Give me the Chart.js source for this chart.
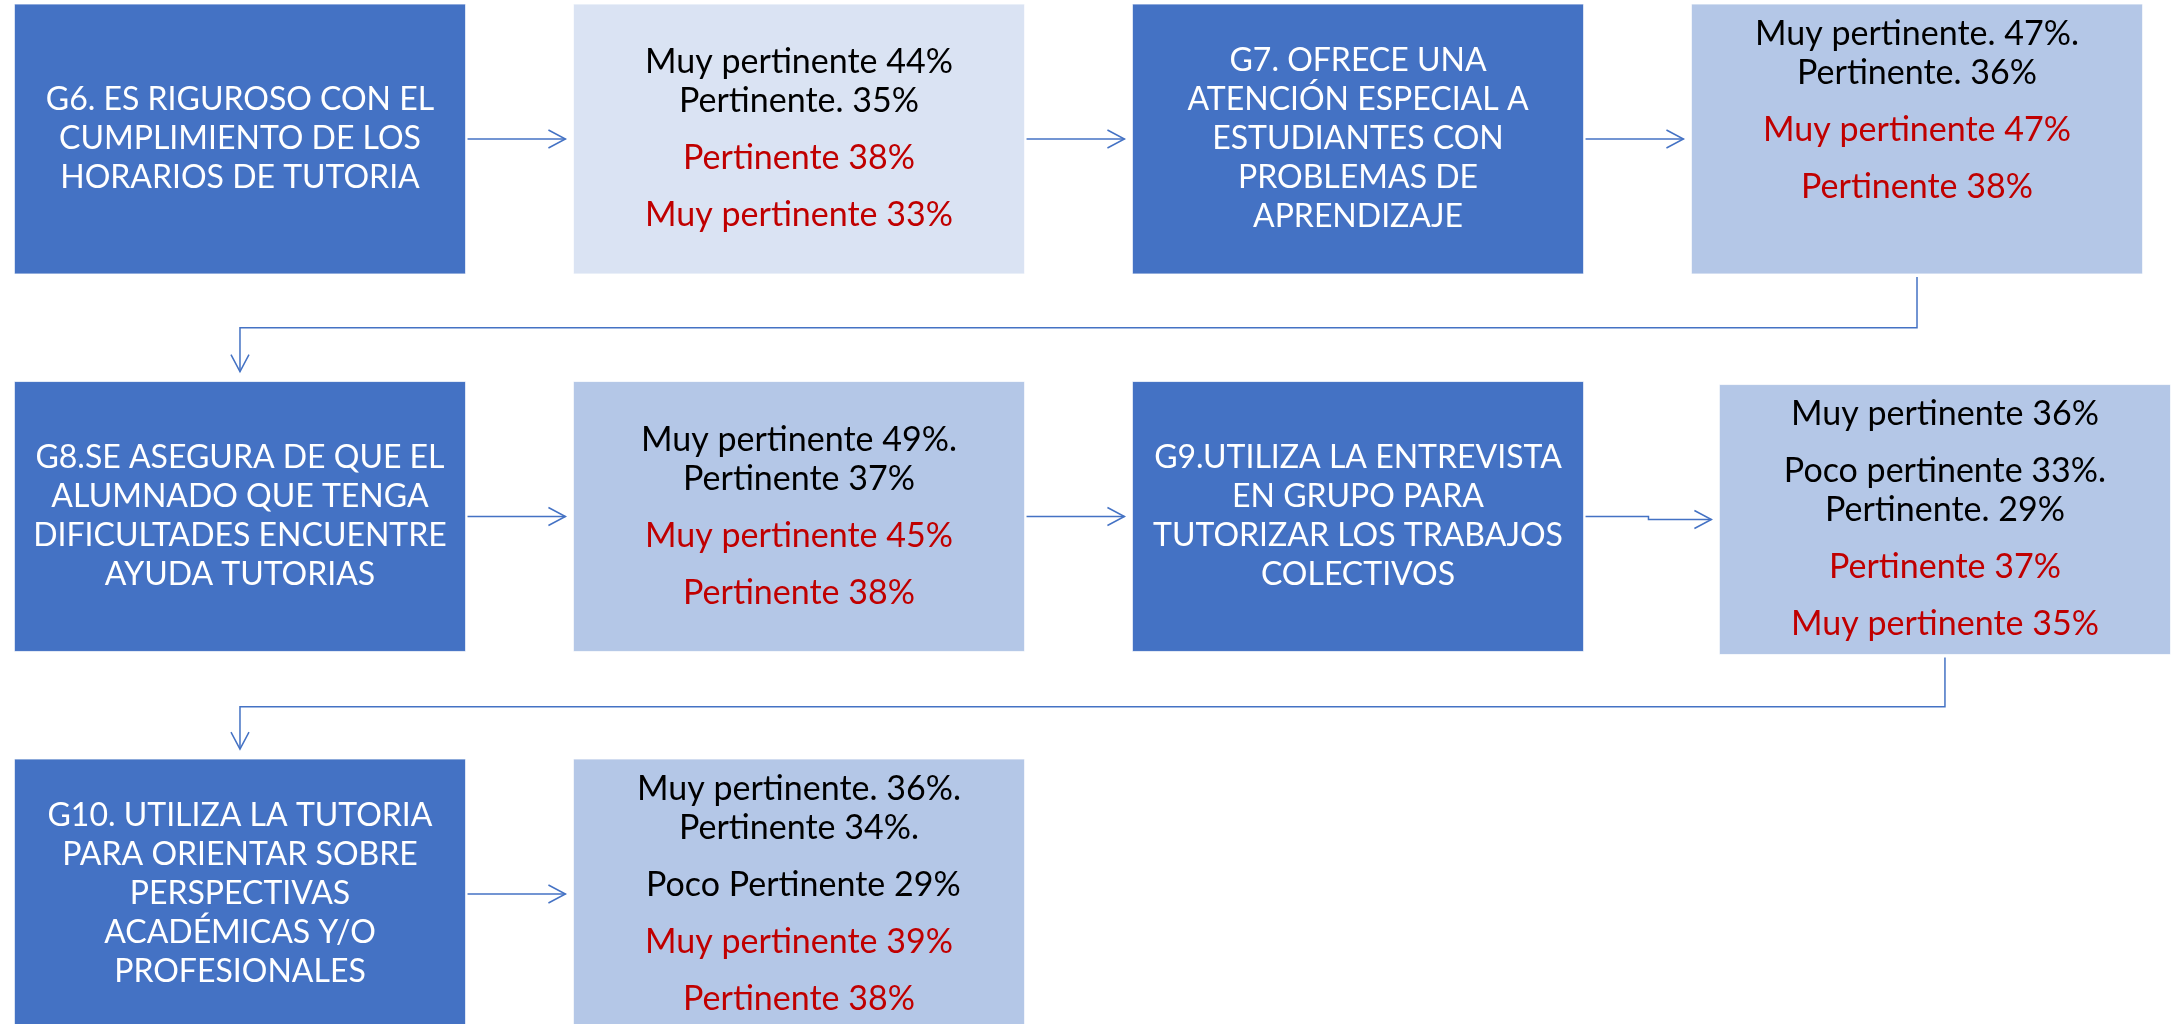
<!DOCTYPE html>
<html>
<head>
<meta charset="utf-8">
<script src="https://cdn.jsdelivr.net/npm/chart.js@4.4.1/dist/chart.umd.min.js"></script>
<style>
  html, body { margin: 0; padding: 0; background: #ffffff; overflow: hidden; }
  #flow { display: block; }
</style>
</head>
<body>
<canvas id="flow" width="2177" height="1024"></canvas>
<script>
// Items (question statements), one box each
const itemLines = [
    ['G6. ES RIGUROSO CON EL', 'CUMPLIMIENTO DE LOS', 'HORARIOS DE TUTORIA'],
    ['G7. OFRECE UNA', 'ATENCIÓN ESPECIAL A', 'ESTUDIANTES CON', 'PROBLEMAS DE', 'APRENDIZAJE'],
    ['G8.SE ASEGURA DE QUE EL', 'ALUMNADO QUE TENGA', 'DIFICULTADES ENCUENTRE', 'AYUDA TUTORIAS'],
    ['G9.UTILIZA LA ENTREVISTA', 'EN GRUPO PARA', 'TUTORIZAR LOS TRABAJOS', 'COLECTIVOS'],
    ['G10. UTILIZA LA TUTORIA', 'PARA ORIENTAR SOBRE', 'PERSPECTIVAS', 'ACADÉMICAS Y/O', 'PROFESIONALES']
];

// First results (black), grouped in paragraphs
const firstResults = [
    [['Muy pertinente 44%', 'Pertinente. 35%']],
    [['Muy pertinente. 47%.', 'Pertinente. 36%']],
    [['Muy pertinente 49%.', 'Pertinente 37%']],
    [['Muy pertinente 36%'], ['Poco pertinente 33%.', 'Pertinente. 29%']],
    [['Muy pertinente. 36%.', 'Pertinente 34%.'], [' Poco Pertinente 29%']]
];

// Second results (red), one paragraph per line
const secondResults = [
    ['Pertinente 38%', 'Muy pertinente 33%'],
    ['Muy pertinente 47%', 'Pertinente 38%', ''],
    ['Muy pertinente 45%', 'Pertinente 38%'],
    ['Pertinente 37%', 'Muy pertinente 35%'],
    ['Muy pertinente 39%', 'Pertinente 38%']
];

// Layout: grid position of each box (item, result, item, result ...)
const gridCols = [0, 1, 2, 3, 0, 1, 2, 3.05, 0, 1];
const gridRows = [0, 0, 0, 0, 1, 1, 1, 1.008, 2, 2];
const BOX_W = 0.807;
const BOX_H = 0.715;

const ITEM_COLOR = '#4472C4';
const RESULT_COLORS = ['#DAE3F3', '#B4C7E7', '#B4C7E7', '#B4C7E7', '#B4C7E7'];
const LINE_COLOR = '#4472C4';
const ITEM_FONT = '32px Lato, sans-serif';
const RESULT_FONT = '34px Lato, sans-serif';

// Draw an open arrow head at (x, y) pointing in direction (dx, dy)
function drawArrowHead(ctx, x, y, dx, dy) {
    const len = 17, half = 9;
    const px = -dy, py = dx;
    ctx.beginPath();
    ctx.moveTo(x - dx * len + px * half, y - dy * len + py * half);
    ctx.lineTo(x, y);
    ctx.lineTo(x - dx * len - px * half, y - dy * len - py * half);
    ctx.stroke();
}

// Draw centered lines; paragraphs get extra space after
function drawParagraphs(ctx, cx, cy, paragraphs, font) {
    const lineGap = 39, paraGap = 57;
    const rows = [];
    let y = 0;
    paragraphs.forEach((p, pi) => {
        p.lines.forEach((line, li) => {
            rows.push({ text: line, color: p.color, y: y });
            if (li < p.lines.length - 1) y += lineGap;
        });
        if (pi < paragraphs.length - 1) y += paraGap;
    });
    const offset = cy - y / 2;
    ctx.font = font;
    ctx.textAlign = 'center';
    ctx.textBaseline = 'middle';
    rows.forEach(r => {
        ctx.fillStyle = r.color;
        ctx.fillText(r.text, cx, offset + r.y);
    });
}

const flowPlugin = {
    id: 'flowBoxes',
    afterDatasetsDraw(chart) {
        const ctx = chart.ctx;
        const xs = chart.scales.x, ys = chart.scales.y;
        const pts = chart.getDatasetMeta(0).data;
        const bw = xs.getPixelForValue(BOX_W) - xs.getPixelForValue(0);
        const bh = ys.getPixelForValue(BOX_H) - ys.getPixelForValue(0);
        const boxes = pts.map(p => ({
            x: p.x, y: p.y,
            left: p.x - bw / 2, right: p.x + bw / 2,
            top: p.y - bh / 2, bottom: p.y + bh / 2
        }));

        ctx.save();
        // Boxes and their text
        boxes.forEach((b, i) => {
            const k = Math.floor(i / 2);
            const isItem = i % 2 === 0;
            ctx.fillStyle = isItem ? ITEM_COLOR : RESULT_COLORS[k];
            ctx.fillRect(b.left, b.top, bw, bh);
            ctx.strokeStyle = 'rgba(255,255,255,0.7)';
            ctx.lineWidth = 1;
            ctx.strokeRect(b.left, b.top, bw, bh);
            if (isItem) {
                drawParagraphs(ctx, b.x, b.y, [{ lines: itemLines[k], color: '#ffffff' }], ITEM_FONT);
            } else {
                const paras = firstResults[k].map(p => ({ lines: p, color: '#000000' }))
                    .concat(secondResults[k].map(t => ({ lines: [t], color: '#C00000' })));
                drawParagraphs(ctx, b.x, b.y, paras, RESULT_FONT);
            }
        });

        // Connectors between consecutive boxes
        ctx.strokeStyle = LINE_COLOR;
        ctx.lineWidth = 1.5;
        for (let i = 0; i < boxes.length - 1; i++) {
            const a = boxes[i], b = boxes[i + 1];
            if (Math.round(gridRows[i]) === Math.round(gridRows[i + 1])) {
                const x1 = a.right + 2, x2 = b.left - 8;
                const midX = (x1 + x2) / 2;
                ctx.beginPath();
                ctx.moveTo(x1, a.y);
                ctx.lineTo(midX, a.y);
                ctx.lineTo(midX, b.y);
                ctx.lineTo(x2, b.y);
                ctx.stroke();
                drawArrowHead(ctx, x2, b.y, 1, 0);
            } else {
                const y1 = a.bottom + 3, y2 = b.top - 10;
                const midY = (a.bottom + b.top) / 2;
                ctx.beginPath();
                ctx.moveTo(a.x, y1);
                ctx.lineTo(a.x, midY);
                ctx.lineTo(b.x, midY);
                ctx.lineTo(b.x, y2);
                ctx.stroke();
                drawArrowHead(ctx, b.x, y2, 0, 1);
            }
        }
        ctx.restore();
    }
};

const flowChart = new Chart(document.getElementById('flow').getContext('2d'), {
    type: 'scatter',
    data: {
        datasets: [{
            data: gridCols.map((c, i) => ({ x: c, y: gridRows[i] })),
            pointRadius: 0,
            pointHoverRadius: 0
        }]
    },
    options: {
        responsive: false,
        animation: false,
        devicePixelRatio: 1,
        layout: { padding: 0 },
        plugins: { legend: { display: false }, tooltip: { enabled: false } },
        events: [],
        scales: {
            x: { type: 'linear', display: false, min: -0.4293, max: 3.4651 },
            y: { type: 'linear', display: false, reverse: true, min: -0.3682, max: 2.3444 }
        }
    },
    plugins: [flowPlugin]
});
</script>
</body>
</html>
